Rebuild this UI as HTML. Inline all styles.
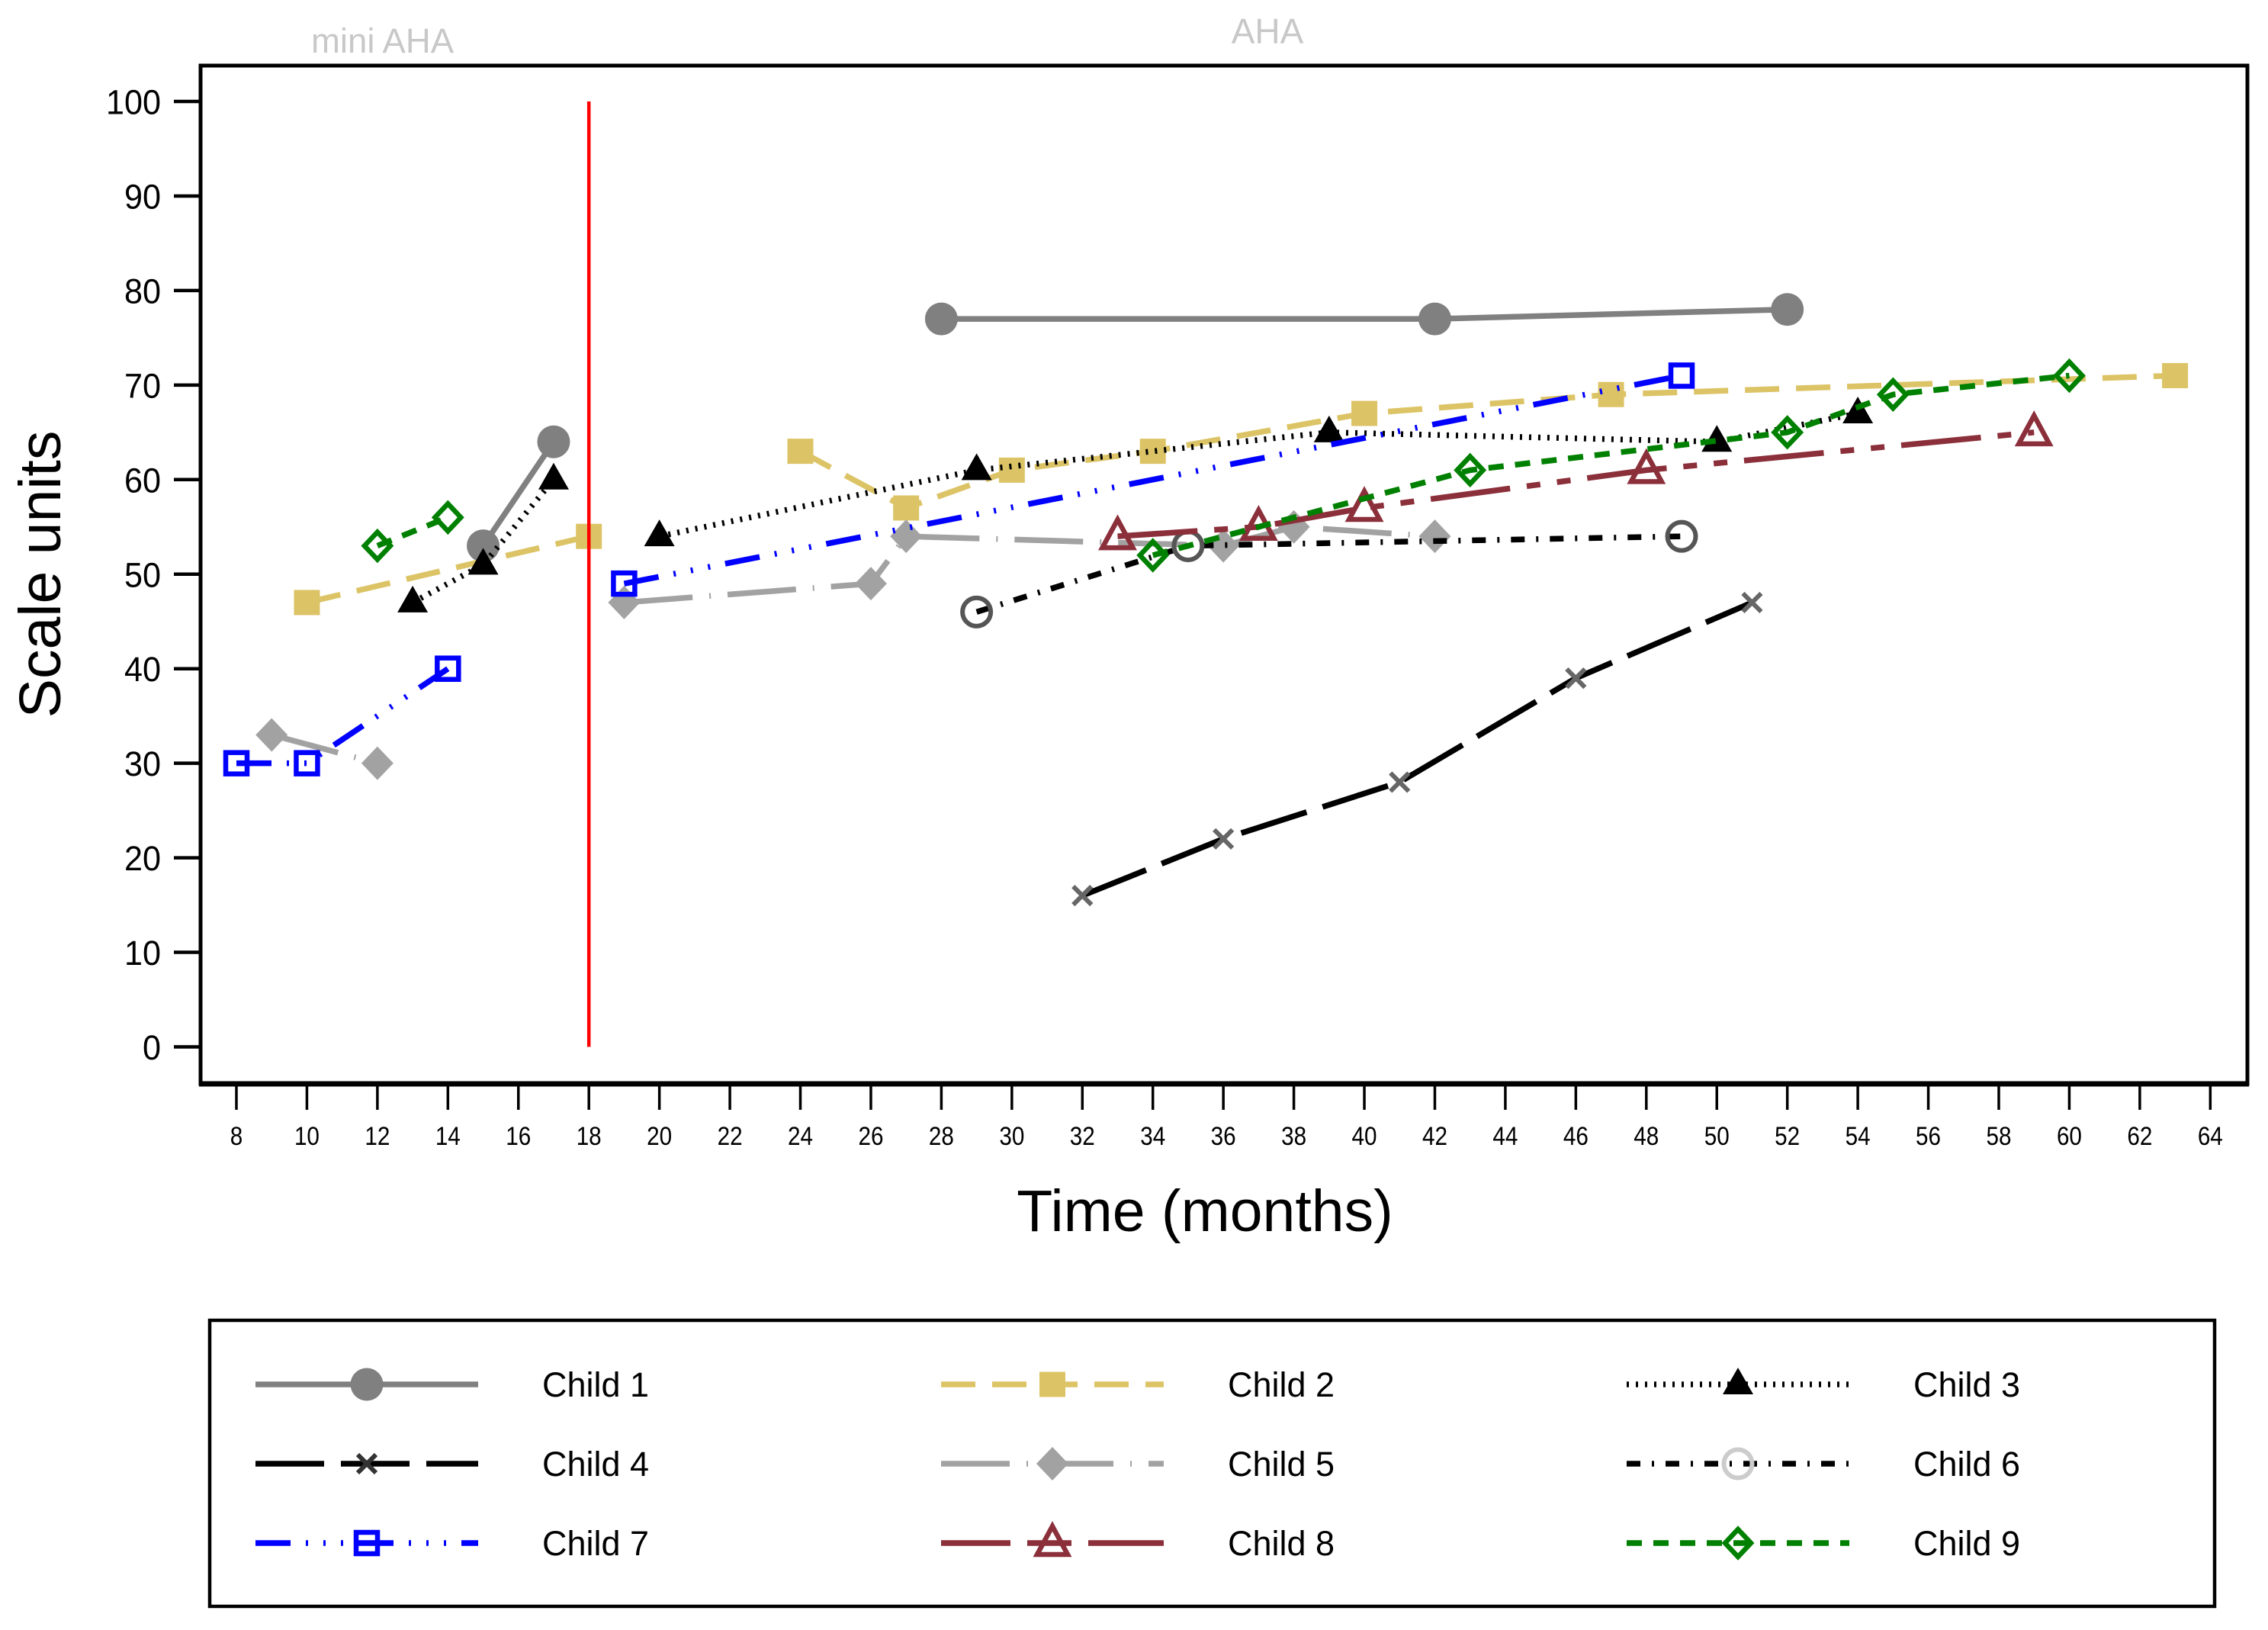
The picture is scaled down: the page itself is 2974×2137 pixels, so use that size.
<!DOCTYPE html>
<html lang="en">
<head>
<meta charset="utf-8">
<title>Scale units over time by child</title>
<style>
html,body{margin:0;padding:0;background:#fff;}
svg{display:block;font-family:"Liberation Sans",sans-serif;}
</style>
</head>
<body>
<svg id="chart" xmlns="http://www.w3.org/2000/svg" width="2974" height="2137" viewBox="0 0 2974 2137">
  <rect x="0" y="0" width="2974" height="2137" fill="#fff"/>
  <text x="408" y="69" font-size="45.5" fill="#c8c8c8">mini AHA</text>
  <text x="1662" y="57" font-size="46" fill="#c8c8c8" text-anchor="middle">AHA</text>
  <text transform="translate(79,753) rotate(-90)" font-size="77" text-anchor="middle" fill="#000">Scale units</text>
  <text x="1580" y="1614" font-size="77" text-anchor="middle" fill="#000">Time (months)</text>
  <rect x="263" y="86" width="2684" height="1335" fill="none" stroke="#000" stroke-width="5"/>
  <line x1="261" x2="2949" y1="1421" y2="1421" stroke="#000" stroke-width="7"/>
  <rect x="275" y="1731" width="2629" height="375" fill="none" stroke="#000" stroke-width="4.5"/>
  <g id="axes"></g>
  <g id="series"></g>
  <g id="legend"></g>
</svg>
<script>
// Data; null marks a break in the line between study phases.
const xTicks = [8,10,12,14,16,18,20,22,24,26,28,30,32,34,36,38,40,42,44,46,48,50,52,54,56,58,60,62,64];
const yTicks = [0,10,20,30,40,50,60,70,80,90,100];
const dividerMonth = 18;

const child1Months = [15,17,null,28,42,52];
const child1Scores = [53,64,null,77,77,78];
const child2Months = [10,18,null,24,27,30,34,40,47,63];
const child2Scores = [47,54,null,63,57,61,63,67,69,71];
const child3Months = [13,15,17,null,20,29,39,50,54];
const child3Scores = [47,51,60,null,54,61,65,64,67];
const child4Months = [32,36,41,46,51];
const child4Scores = [16,22,28,39,47];
const child5Months = [9,12,null,19,26,27,36,38,42];
const child5Scores = [33,30,null,47,49,54,53,55,54];
const child6Months = [29,35,49];
const child6Scores = [46,53,54];
const child7Months = [8,10,14,null,19,49];
const child7Scores = [30,30,40,null,49,71];
const child8Months = [33,37,40,48,59];
const child8Scores = [54,55,57,61,65];
const child9Months = [12,14,null,34,43,52,55,60];
const child9Scores = [53,56,null,52,61,65,69,71];

const NS = 'http://www.w3.org/2000/svg';
const xOrigin = 310, xPerMonth = 46.22;
const yOrigin = 1372.5, yPerUnit = 12.395;
const xAxis = m => xOrigin + (m - 8) * xPerMonth;
const yAxis = v => yOrigin - v * yPerUnit;

function make(tag, parent, attrs) {
  const el = document.createElementNS(NS, tag);
  for (const k in attrs) el.setAttribute(k, attrs[k]);
  parent.appendChild(el);
  return el;
}

const axes = document.getElementById('axes');
yTicks.forEach(v => {
  const tick = make('line', axes, {x1:228, x2:263, y1:yAxis(v), y2:yAxis(v), stroke:'#000', 'stroke-width':4.5});
  
  
  const label = make('text', axes, {x:211, y:yAxis(v)+16.5, 'font-size':45, 'text-anchor':'end', textLength:String(v).length*24, lengthAdjust:'spacingAndGlyphs', fill:'#000'});
  
  
  label.textContent = v;
});
xTicks.forEach(m => {
  const tick = make('line', axes, {x1:xAxis(m), x2:xAxis(m), y1:1421, y2:1455, stroke:'#000', 'stroke-width':3.5});
  
  
  const label = make('text', axes, {x:xAxis(m), y:1501, 'font-size':34, 'text-anchor':'middle', textLength:String(m).length*16.5, lengthAdjust:'spacingAndGlyphs', fill:'#000'});
  
  
  label.textContent = m;
});

function drawMarker(parent, type, cx, cy, color) {
  let el;
  if (type === 'disc') {
    el = make('circle', parent, {cx:cx, cy:cy, r:21.5, fill:color});
  } else if (type === 'ring') {
    el = make('circle', parent, {cx:cx, cy:cy, r:18.5, fill:'none', stroke:color, 'stroke-width':6});
  } else if (type === 'fsquare') {
    el = make('rect', parent, {x:cx-17, y:cy-16.5, width:34, height:33, fill:color});
  } else if (type === 'osquare') {
    el = make('rect', parent, {x:cx-14, y:cy-14, width:28, height:28, fill:'none', stroke:color, 'stroke-width':6.5});
  } else if (type === 'ftri') {
    el = make('polygon', parent, {points:`${cx},${cy-22} ${cx+20},${cy+13} ${cx-20},${cy+13}`, fill:color});
  } else if (type === 'otri') {
    el = make('polygon', parent, {points:`${cx},${cy-22} ${cx+20},${cy+15} ${cx-20},${cy+15}`, fill:'none', stroke:color, 'stroke-width':6.5});
  } else if (type === 'fdiamond') {
    el = make('polygon', parent, {points:`${cx},${cy-22} ${cx+21},${cy} ${cx},${cy+22} ${cx-21},${cy}`, fill:color});
  } else if (type === 'odiamond') {
    el = make('polygon', parent, {points:`${cx},${cy-18} ${cx+17},${cy} ${cx},${cy+18} ${cx-17},${cy}`, fill:'none', stroke:color, 'stroke-width':6.5});
  } else {
    el = make('path', parent, {d:`M${cx-12} ${cy-12}L${cx+12} ${cy+12}M${cx+12} ${cy-12}L${cx-12} ${cy+12}`, fill:'none', stroke:color, 'stroke-width':6});
  }
  return el;
}

const seriesDefs = [
  {name:'Child 1', slug:'child-1', months:child1Months, scores:child1Scores, line:'#808080', dash:'none', marker:'disc', mark:'#808080', legendMark:'#808080'},
  {name:'Child 2', slug:'child-2', months:child2Months, scores:child2Scores, line:'#dcc466', dash:'45 22', marker:'fsquare', mark:'#dcc466', legendMark:'#dcc466'},
  {name:'Child 3', slug:'child-3', months:child3Months, scores:child3Scores, line:'#000', dash:'3 9', marker:'ftri', mark:'#000', legendMark:'#000'},
  {name:'Child 4', slug:'child-4', months:child4Months, scores:child4Scores, line:'#000', dash:'90 22', marker:'cross', mark:'#666', legendMark:'#333'},
  {name:'Child 5', slug:'child-5', months:child5Months, scores:child5Scores, line:'#a2a2a2', dash:'90 22 2 22', marker:'fdiamond', mark:'#a2a2a2', legendMark:'#a2a2a2'},
  {name:'Child 6', slug:'child-6', months:child6Months, scores:child6Scores, line:'#000', dash:'18 15 3 15', marker:'ring', mark:'#555', legendMark:'#ccc'},
  {name:'Child 7', slug:'child-7', months:child7Months, scores:child7Scores, line:'#0000ff', dash:'46 20 3 20 3 20 3 20', marker:'osquare', mark:'#0000ff', legendMark:'#0000ff'},
  {name:'Child 8', slug:'child-8', months:child8Months, scores:child8Scores, line:'#8b2f3a', dash:'105 22 18 22 18 22', legendDash:'91 22 58 22 100', marker:'otri', mark:'#8b2f3a', legendMark:'#8b2f3a'},
  {name:'Child 9', slug:'child-9', months:child9Months, scores:child9Scores, line:'#008000', dash:'20 15', marker:'odiamond', mark:'#008000', legendMark:'#008000'}
];

const seriesLayer = document.getElementById('series');
seriesDefs.forEach(s => {
  const group = make('g', seriesLayer, {});
  
  
  let d = '', pen = false;
  s.months.forEach((m, i) => {
    if (m === null) { pen = false; return; }
    d += (pen ? 'L' : 'M') + xAxis(m) + ' ' + yAxis(s.scores[i]);
    pen = true;
  });
  const path = make('path', group, {d:d, fill:'none', stroke:s.line, 'stroke-width':7.5, 'stroke-dasharray':s.dash});
  
  
  s.months.forEach((m, i) => {
    if (m === null) return;
    const mk = drawMarker(group, s.marker, xAxis(m), yAxis(s.scores[i]), s.mark);
    
    
  });
});

const divider = make('line', seriesLayer, {x1:xAxis(dividerMonth), x2:xAxis(dividerMonth), y1:yAxis(100), y2:yAxis(0), stroke:'#ff0000', 'stroke-width':4.5});



const legendRoot = document.getElementById('legend');
const legendCols = [335, 1234, 2133];
const legendRows = [1815, 1919, 2023];
seriesDefs.forEach((s, i) => {
  const x0 = legendCols[i % 3], y0 = legendRows[Math.floor(i / 3)];
  const entry = make('g', legendRoot, {});
  
  
  const sample = make('line', entry, {x1:x0, x2:x0+292, y1:y0, y2:y0, stroke:s.line, 'stroke-width':7.5, 'stroke-dasharray':s.legendDash || s.dash});
  
  
  const mk = drawMarker(entry, s.marker, x0+146, y0, s.legendMark);
  
  
  const label = make('text', entry, {x:x0+376, y:y0+16, 'font-size':45, fill:'#000'});
  
  
  label.textContent = s.name;
});
</script>
</body>
</html>
